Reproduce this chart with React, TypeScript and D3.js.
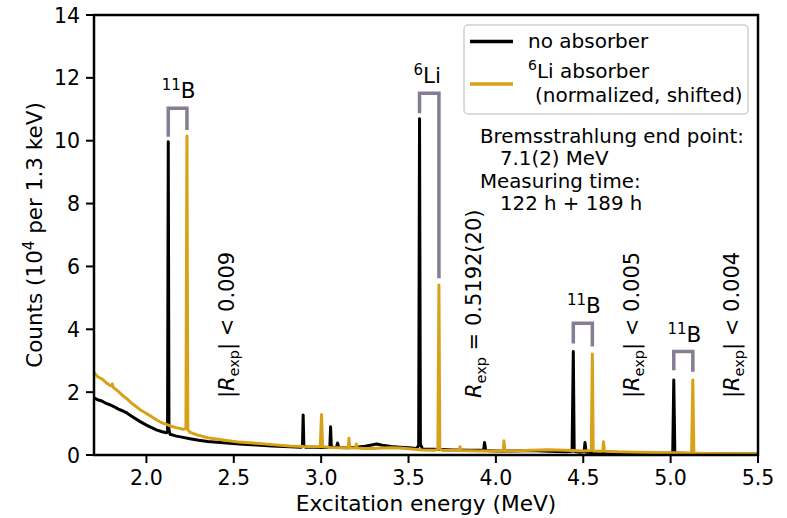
import React from 'react';
import * as d3 from 'd3';

// spectrum without absorber (energy in MeV, counts in 1e4 per 1.3 keV)
const noAbsEnergy = [
  1.700, 1.720, 1.745, 1.770, 1.790, 1.810, 1.840, 1.866, 1.890, 1.920, 1.962, 2.000, 2.030, 2.057, 2.090,
  2.115, 2.121, 2.125, 2.129, 2.135, 2.172, 2.210, 2.249, 2.300, 2.350, 2.440, 2.530, 2.630, 2.720, 2.820,
  2.885, 2.893, 2.897, 2.901, 2.910, 2.960, 3.000, 3.045, 3.050, 3.054, 3.058, 3.070, 3.088, 3.094, 3.100,
  3.150, 3.200, 3.250, 3.290, 3.317, 3.350, 3.400, 3.450, 3.500, 3.546, 3.558, 3.563, 3.568, 3.580, 3.650,
  3.750, 3.850, 3.930, 3.935, 3.942, 4.000, 4.100, 4.200, 4.300, 4.400, 4.436, 4.443, 4.448, 4.480, 4.505,
  4.510, 4.516, 4.600, 4.700, 4.800, 4.900, 5.012, 5.018, 5.024, 5.100, 5.250, 5.400, 5.500,
];
const noAbsCounts = [
  1.82, 1.76, 1.72, 1.64, 1.60, 1.55, 1.46, 1.40, 1.33, 1.22, 1.07, 0.95, 0.87, 0.80, 0.74,
  0.71, 0.75, 9.97, 0.80, 0.66, 0.60, 0.56, 0.52, 0.47, 0.43, 0.39, 0.35, 0.32, 0.29, 0.26,
  0.25, 0.30, 1.27, 0.30, 0.25, 0.25, 0.24, 0.24, 0.30, 0.90, 0.28, 0.24, 0.25, 0.38, 0.24,
  0.23, 0.25, 0.28, 0.32, 0.35, 0.31, 0.27, 0.25, 0.23, 0.21, 0.30, 10.70, 0.35, 0.19, 0.18,
  0.16, 0.15, 0.15, 0.40, 0.14, 0.13, 0.13, 0.14, 0.12, 0.10, 0.12, 3.29, 0.12, 0.09, 0.10,
  0.40, 0.09, 0.07, 0.06, 0.06, 0.05, 0.06, 2.39, 0.06, 0.05, 0.04, 0.03, 0.03,
];

// spectrum with 6Li absorber (normalized, shifted)
const liAbsEnergy = [
  1.700, 1.720, 1.745, 1.770, 1.790, 1.800, 1.805, 1.810, 1.840, 1.866, 1.890, 1.920, 1.962, 2.000, 2.030,
  2.057, 2.090, 2.130, 2.170, 2.210, 2.226, 2.232, 2.237, 2.250, 2.290, 2.350, 2.440, 2.530, 2.630, 2.720,
  2.820, 2.900, 2.995, 3.002, 3.008, 3.050, 3.100, 3.155, 3.159, 3.164, 3.197, 3.201, 3.205, 3.250, 3.300,
  3.350, 3.400, 3.450, 3.500, 3.580, 3.650, 3.668, 3.674, 3.679, 3.700, 3.790, 3.795, 3.800, 3.900, 4.000,
  4.042, 4.046, 4.051, 4.100, 4.200, 4.300, 4.400, 4.500, 4.546, 4.552, 4.557, 4.600, 4.612, 4.616, 4.621,
  4.700, 4.800, 4.900, 5.000, 5.100, 5.120, 5.127, 5.133, 5.200, 5.350, 5.500,
];
const liAbsCounts = [
  2.62, 2.50, 2.42, 2.30, 2.22, 2.20, 2.26, 2.15, 2.02, 1.88, 1.78, 1.63, 1.45, 1.32, 1.22,
  1.12, 1.02, 0.94, 0.87, 0.82, 0.84, 10.15, 0.80, 0.72, 0.64, 0.55, 0.48, 0.41, 0.37, 0.33,
  0.29, 0.27, 0.26, 1.29, 0.26, 0.24, 0.23, 0.23, 0.53, 0.23, 0.22, 0.35, 0.22, 0.21, 0.21,
  0.22, 0.23, 0.22, 0.20, 0.16, 0.15, 0.18, 5.41, 0.18, 0.14, 0.14, 0.26, 0.14, 0.13, 0.13,
  0.14, 0.45, 0.13, 0.13, 0.15, 0.17, 0.15, 0.13, 0.14, 3.21, 0.13, 0.12, 0.13, 0.42, 0.12,
  0.10, 0.09, 0.08, 0.07, 0.06, 0.06, 2.39, 0.06, 0.05, 0.04, 0.04,
];

// brackets joining the same line in both spectra
const bracketNucleus = ['11', '6', '11', '11'];
const bracketElement = ['B', 'Li', 'B', 'B'];
const bracketLeftE = [2.125, 3.563, 4.443, 5.018];
const bracketRightE = [2.232, 3.674, 4.552, 5.127];
const bracketTop = [11.03, 11.51, 4.19, 3.29];
const bracketLeftEnd = [10.13, 10.87, 3.55, 2.70];
const bracketRightEnd = [10.34, 5.62, 3.45, 2.65];

// ratio annotations
const ratioE = [2.50, 3.915, 4.82, 5.39];
const ratioAbs = [true, false, true, true];
const ratioRest = [' < 0.009', ' = 0.5192(20)', ' < 0.005', ' < 0.004'];
const ratioStart = 1.81;

const xTicks = [2.0, 2.5, 3.0, 3.5, 4.0, 4.5, 5.0, 5.5];
const yTicks = [0, 2, 4, 6, 8, 10, 12, 14];

const W = 787;
const H = 518;
const margin = { top: 15, right: 29, bottom: 63, left: 94 };
const BLACK = '#000000';
const GOLD = '#d9a118';
const BRACKET = '#867d94';
const FONT = 'DejaVu Sans, sans-serif';

const App = () => {
  const x = d3.scaleLinear().domain([1.7, 5.5]).range([margin.left, W - margin.right]);
  const y = d3.scaleLinear().domain([0, 14]).range([H - margin.bottom, margin.top]);

  const line = d3.line<[number, number]>()
    .x(d => x(d[0]))
    .y(d => y(d[1]));

  const noAbs = noAbsEnergy.map((e, i) => [e, noAbsCounts[i]] as [number, number]);
  const liAbs = liAbsEnergy.map((e, i) => [e, liAbsCounts[i]] as [number, number]);

  const x0 = margin.left;
  const x1 = W - margin.right;
  const y0 = H - margin.bottom;
  const y1 = margin.top;

  return (
    <svg width={W} height={H} style={{ position: 'absolute', left: 0, top: 0 }} fontFamily={FONT}>
      <rect width={W} height={H} fill="white" />
      <defs>
        <clipPath id="plot">
          <rect x={x0} y={y1} width={x1 - x0} height={y0 - y1} />
        </clipPath>
      </defs>

      {/* spectra */}
      <g clipPath="url(#plot)">
        <path d={line(noAbs) || ''} fill="none" stroke={BLACK} strokeWidth={3} strokeLinejoin="round" />
        <path d={line(liAbs) || ''} fill="none" stroke={GOLD} strokeWidth={3} strokeLinejoin="round" />
      </g>

      {/* brackets + labels */}
      {bracketLeftE.map((e, i) => {
        const xl = x(e);
        const xr = x(bracketRightE[i]);
        const yt = y(bracketTop[i]);
        return (
          <g key={'b' + i}>
            <path
              d={`M${xl},${y(bracketLeftEnd[i])}V${yt}H${xr}V${y(bracketRightEnd[i])}`}
              fill="none" stroke={BRACKET} strokeWidth={3.5} />
            <text x={(xl + xr) / 2 + (i === 1 ? -2 : 1)} y={yt - 10} textAnchor="middle" fontSize={21.5}>
              <tspan fontSize={15} dy={-8}>{bracketNucleus[i]}</tspan>
              <tspan dy={8}>{bracketElement[i]}</tspan>
            </text>
          </g>
        );
      })}

      {/* ratio annotations */}
      {ratioE.map((e, i) => (
        <text key={'r' + i} transform={`translate(${x(e)},${y(ratioStart)}) rotate(-90)`} fontSize={21}>
          {ratioAbs[i] ? '|' : ''}
          <tspan fontStyle="italic">R</tspan>
          <tspan fontSize={14.5} dy={5}>exp</tspan>
          <tspan dy={-5}>{(ratioAbs[i] ? '|' : '') + ratioRest[i]}</tspan>
        </text>
      ))}

      {/* legend */}
      <rect x={464} y={25} width={284} height={89} rx={4} fill="white" fillOpacity={0.8} stroke="#d0d0d0" strokeWidth={1.5} />
      <line x1={470} x2={513} y1={41.5} y2={41.5} stroke={BLACK} strokeWidth={3.5} />
      <line x1={470} x2={513} y1={84} y2={84} stroke={GOLD} strokeWidth={3.5} />
      <text x={528} y={48} fontSize={20}>no absorber</text>
      <text x={528} y={78} fontSize={20}>
        <tspan fontSize={14} dy={-8}>6</tspan>
        <tspan dy={8}>Li absorber</tspan>
      </text>
      <text x={535} y={102} fontSize={20}>(normalized, shifted)</text>

      {/* run info */}
      <text fontSize={19.8}>
        <tspan x={480} y={143}>Bremsstrahlung end point:</tspan>
        <tspan x={500} y={165}>7.1(2) MeV</tspan>
        <tspan x={480} y={188}>Measuring time:</tspan>
        <tspan x={500} y={210}>122 h + 189 h</tspan>
      </text>

      {/* axes */}
      {xTicks.map(t => (
        <g key={'x' + t}>
          <line x1={x(t)} x2={x(t)} y1={y0} y2={y0 + 8} stroke={BLACK} strokeWidth={2} />
          <text x={x(t)} y={y0 + 30} textAnchor="middle" fontSize={20.5}>{t.toFixed(1)}</text>
        </g>
      ))}
      {yTicks.map(t => (
        <g key={'y' + t}>
          <line x1={x0 - 8} x2={x0} y1={y(t)} y2={y(t)} stroke={BLACK} strokeWidth={2} />
          <text x={x0 - 14} y={y(t) + 7.5} textAnchor="end" fontSize={20.5}>{t}</text>
        </g>
      ))}
      <rect x={x0} y={y1} width={x1 - x0} height={y0 - y1} fill="none" stroke={BLACK} strokeWidth={2.5} />

      <text x={(x0 + x1) / 2} y={511} textAnchor="middle" fontSize={21.7}>Excitation energy (MeV)</text>
      <text transform={`translate(42,${(y0 + y1) / 2}) rotate(-90)`} textAnchor="middle" fontSize={21.5}>
        Counts (10<tspan fontSize={15} dy={-8}>4</tspan><tspan dy={8}> per 1.3 keV)</tspan>
      </text>
    </svg>
  );
};

export default App;
